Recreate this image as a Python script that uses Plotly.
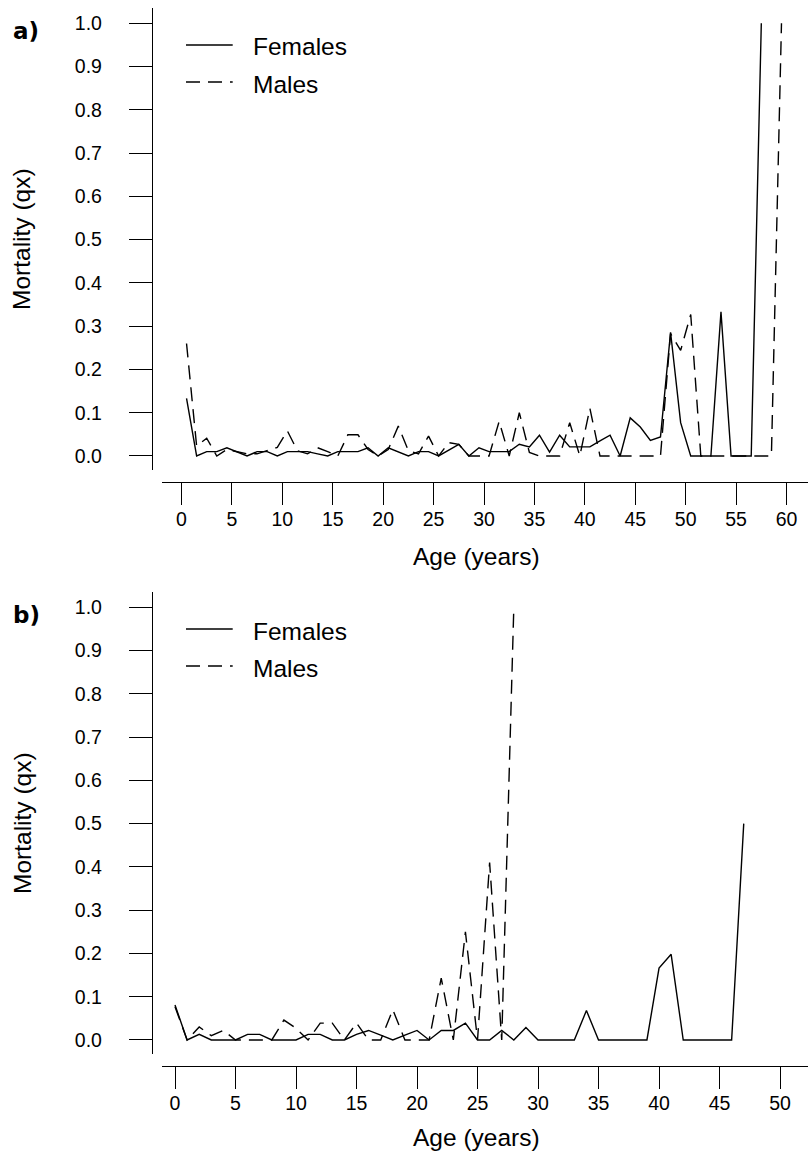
import plotly.graph_objects as go

W, H = 808, 1153

# ---- panel a: age-specific mortality (mid-year ages) ----
age_a_f = [0.5, 1.5, 2.5, 3.5, 4.5, 5.5, 6.5, 7.5, 8.5, 9.5,
           10.5, 11.5, 12.5, 13.5, 14.5, 15.5, 16.5, 17.5, 18.5, 19.5,
           20.5, 21.5, 22.5, 23.5, 24.5, 25.5, 26.5, 27.5, 28.5, 29.5,
           30.5, 31.5, 32.5, 33.5, 34.5, 35.5, 36.5, 37.5, 38.5, 39.5,
           40.5, 41.5, 42.5, 43.5, 44.5, 45.5, 46.5, 47.5, 48.5, 49.5,
           50.5, 51.5, 52.5, 53.5, 54.5, 55.5, 56.5, 57.5]
qx_a_f = [0.133, 0.0, 0.01, 0.01, 0.019, 0.01, 0.0, 0.01, 0.01, 0.0,
          0.01, 0.01, 0.01, 0.005, 0.0, 0.01, 0.01, 0.01, 0.019, 0.0,
          0.019, 0.01, 0.0, 0.01, 0.01, 0.0, 0.013, 0.027, 0.0, 0.019,
          0.01, 0.01, 0.01, 0.027, 0.021, 0.048, 0.009, 0.048, 0.021, 0.021,
          0.021, 0.035, 0.048, 0.0, 0.088, 0.067, 0.036, 0.044, 0.286, 0.077,
          0.0, 0.0, 0.0, 0.333, 0.0, 0.0, 0.0, 1.0]

age_a_m = [0.5, 1.5, 2.5, 3.5, 4.5, 5.5, 6.5, 7.5, 8.5, 9.5,
           10.5, 11.5, 12.5, 13.5, 14.5, 15.5, 16.5, 17.5, 18.5, 19.5,
           20.5, 21.5, 22.5, 23.5, 24.5, 25.5, 26.5, 27.5, 28.5, 29.5,
           30.5, 31.5, 32.5, 33.5, 34.5, 35.5, 36.5, 37.5, 38.5, 39.5,
           40.5, 41.5, 42.5, 43.5, 44.5, 45.5, 46.5, 47.5, 48.5, 49.5,
           50.5, 51.5, 52.5, 53.5, 54.5, 55.5, 56.5, 57.5, 58.5, 59.5]
qx_a_m = [0.26, 0.023, 0.041, 0.0, 0.015, 0.01, 0.005, 0.005, 0.012, 0.02,
          0.058, 0.012, 0.005, 0.019, 0.01, 0.0, 0.049, 0.049, 0.015, 0.0,
          0.015, 0.069, 0.012, 0.005, 0.046, 0.0, 0.031, 0.027, 0.0, 0.0,
          0.0, 0.08, 0.0, 0.1, 0.008, 0.0, 0.0, 0.0, 0.077, 0.0,
          0.11, 0.0, 0.0, 0.0, 0.0, 0.0, 0.0, 0.0, 0.283, 0.244,
          0.327, 0.0, 0.0, 0.0, 0.0, 0.0, 0.0, 0.0, 0.0, 1.0]

# ---- panel b: age-specific mortality (exact ages) ----
age_b_f = [0, 1, 2, 3, 4, 5, 6, 7, 8, 9,
           10, 11, 12, 13, 14, 15, 16, 17, 18, 19,
           20, 21, 22, 23, 24, 25, 26, 27, 28, 29,
           30, 31, 32, 33, 34, 35, 36, 37, 38, 39,
           40, 41, 42, 43, 44, 45, 46, 47]
qx_b_f = [0.081, 0.0, 0.013, 0.0, 0.0, 0.0, 0.013, 0.013, 0.0, 0.0,
          0.0, 0.013, 0.013, 0.0, 0.0, 0.013, 0.022, 0.011, 0.0, 0.011,
          0.022, 0.0, 0.022, 0.022, 0.039, 0.0, 0.0, 0.022, 0.0, 0.029,
          0.0, 0.0, 0.0, 0.0, 0.068, 0.0, 0.0, 0.0, 0.0, 0.0,
          0.166, 0.198, 0.0, 0.0, 0.0, 0.0, 0.0, 0.5]

age_b_m = [0, 1, 2, 3, 4, 5, 6, 7, 8, 9,
           10, 11, 12, 13, 14, 15, 16, 17, 18, 19,
           20, 21, 22, 23, 24, 25, 26, 27, 28]
qx_b_m = [0.077, 0.0, 0.03, 0.01, 0.022, 0.0, 0.0, 0.0, 0.0, 0.046,
          0.027, 0.0, 0.039, 0.039, 0.0, 0.039, 0.0, 0.0, 0.07, 0.0,
          0.0, 0.0, 0.143, 0.0, 0.25, 0.0, 0.41, 0.0, 1.0]

y_ticks = [0.0, 0.1, 0.2, 0.3, 0.4, 0.5, 0.6, 0.7, 0.8, 0.9, 1.0]
y_tick_labels = ["0.0", "0.1", "0.2", "0.3", "0.4", "0.5",
                 "0.6", "0.7", "0.8", "0.9", "1.0"]
x_ticks_a = [0, 5, 10, 15, 20, 25, 30, 35, 40, 45, 50, 55, 60]
x_ticks_b = [0, 5, 10, 15, 20, 25, 30, 35, 40, 45, 50]
series_names = ["Females", "Males"]
panel_tags = ["a)", "b)"]
x_title = "Age (years)"
y_title = "Mortality (qx)"

FONT = "Liberation Sans, Arial, Helvetica, sans-serif"
LW = 1.4
DASH = "14px,8px"


def fx(p):
    return p / W


def fy(p):
    return 1 - p / H


fig = go.Figure()

fig.add_trace(go.Scatter(x=age_a_f, y=qx_a_f, mode="lines", xaxis="x", yaxis="y",
                         line=dict(color="black", width=LW), showlegend=False))
fig.add_trace(go.Scatter(x=age_a_m, y=qx_a_m, mode="lines", xaxis="x", yaxis="y",
                         line=dict(color="black", width=LW, dash=DASH), showlegend=False))
fig.add_trace(go.Scatter(x=age_b_f, y=qx_b_f, mode="lines", xaxis="x2", yaxis="y2",
                         line=dict(color="black", width=LW), showlegend=False))
fig.add_trace(go.Scatter(x=age_b_m, y=qx_b_m, mode="lines", xaxis="x2", yaxis="y2",
                         line=dict(color="black", width=LW, dash=DASH), showlegend=False))

tickfont = dict(family=FONT, size=19.5, color="black")
common_x = dict(showgrid=False, zeroline=False, showline=True, linecolor="black",
                linewidth=1.3, ticks="outside", ticklen=22, tickwidth=1.3,
                tickcolor="black", tickfont=tickfont, anchor="free", side="bottom",
                tickmode="array", ticklabelstandoff=-3)
common_y = dict(showgrid=False, zeroline=False, showline=True, linecolor="black",
                linewidth=1.3, ticks="outside", ticklen=23, tickwidth=1.3,
                tickcolor="black", tickfont=tickfont, anchor="free", side="left",
                tickmode="array", tickvals=y_ticks, ticktext=y_tick_labels,
                ticklabelstandoff=23)

fig.update_layout(
    xaxis=dict(common_x, domain=[fx(162), 1.0], range=[-1.934, 62.13],
               position=fy(482), tickvals=x_ticks_a,
               ticktext=[str(v) for v in x_ticks_a]),
    yaxis=dict(common_y, domain=[fy(470), fy(8)], range=[-0.0324, 1.0354],
               position=fx(152)),
    xaxis2=dict(common_x, domain=[fx(162), 1.0], range=[-1.074, 52.31],
                position=fy(1066), tickvals=x_ticks_b,
                ticktext=[str(v) for v in x_ticks_b]),
    yaxis2=dict(common_y, domain=[fy(1054), fy(592)], range=[-0.0324, 1.0354],
                position=fx(152)),
)

annotations = []
shapes = []
for k, dy in enumerate([0, 584]):
    # axis titles (bottom panel title kept clear of the page edge)
    ty = 556 + dy if k == 0 else 1137
    annotations.append(dict(text=x_title, x=fx(476), y=fy(ty), xref="paper", yref="paper",
                            xanchor="center", yanchor="middle", showarrow=False,
                            font=dict(family=FONT, size=24.5, color="black")))
    annotations.append(dict(text=y_title, x=fx(22), y=fy(239 + dy), xref="paper", yref="paper",
                            xanchor="center", yanchor="middle", showarrow=False, textangle=-90,
                            font=dict(family=FONT, size=24.5, color="black")))
    # panel tag
    annotations.append(dict(text="<b>%s</b>" % panel_tags[k], x=fx(11), y=fy(31 + dy),
                            xref="paper", yref="paper", xanchor="left", yanchor="middle",
                            showarrow=False,
                            font=dict(family="DejaVu Sans", size=23, color="black")))
    # legend
    for j, name in enumerate(series_names):
        ly = 45 + 37 * j + dy
        shapes.append(dict(type="line", xref="paper", yref="paper",
                           x0=fx(186), x1=fx(232.7), y0=fy(ly), y1=fy(ly),
                           line=dict(color="black", width=LW,
                                     dash="solid" if j == 0 else DASH)))
        annotations.append(dict(text=name, x=fx(251), y=fy(ly + 2), xref="paper", yref="paper",
                                xanchor="left", yanchor="middle", showarrow=False,
                                font=dict(family=FONT, size=24.5, color="black")))

fig.update_layout(
    width=W, height=H, autosize=False,
    margin=dict(l=0, r=0, t=0, b=0),
    paper_bgcolor="white", plot_bgcolor="white",
    annotations=annotations, shapes=shapes, showlegend=False,
)

fig.write_html("out.html")
